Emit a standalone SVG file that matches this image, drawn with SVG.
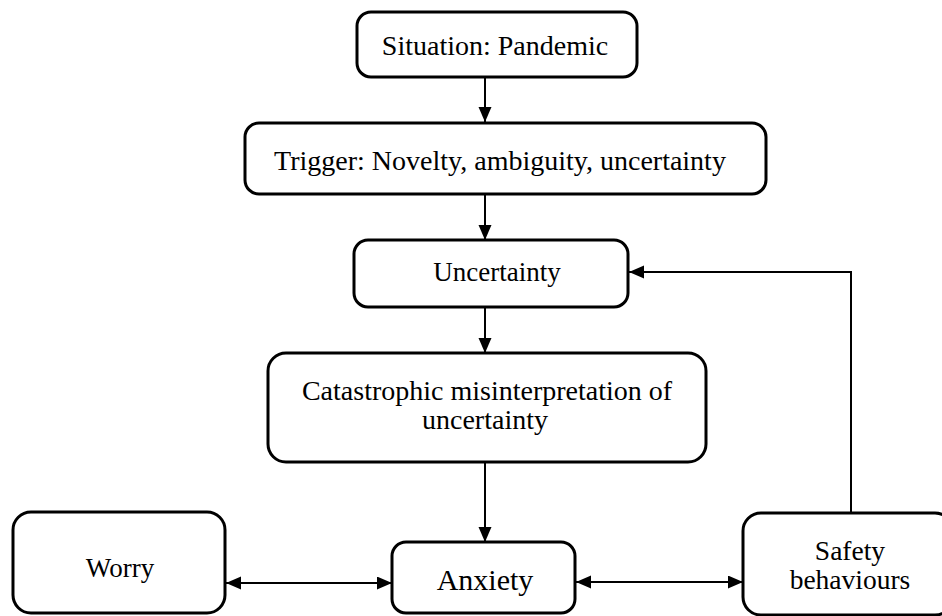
<svg xmlns="http://www.w3.org/2000/svg" width="942" height="616" viewBox="0 0 942 616">
<style>
.box{fill:#fff;stroke:#000;stroke-width:3}
.t{font-family:"Liberation Serif","Times New Roman",serif;font-size:28px;fill:#000;text-anchor:middle}
.c{fill:none;stroke:#000;stroke-width:2}
</style>
<defs>
<marker id="ah" markerUnits="userSpaceOnUse" markerWidth="16" markerHeight="14" refX="15" refY="6.5" orient="auto-start-reverse">
<path d="M0,0 L15,6.5 L0,13 Z" fill="#000"/>
</marker>
</defs>
<rect width="942" height="616" fill="#fff"/>
<g id="connectors">
<line class="c" x1="485" y1="77" x2="485" y2="122" marker-end="url(#ah)"/>
<line class="c" x1="485" y1="194" x2="485" y2="240" marker-end="url(#ah)"/>
<line class="c" x1="485" y1="307" x2="485" y2="353" marker-end="url(#ah)"/>
<line class="c" x1="485" y1="462" x2="485" y2="542" marker-end="url(#ah)"/>
<polyline class="c" points="851,513 851,272 629,272" marker-end="url(#ah)"/>
<line class="c" x1="226" y1="583" x2="392" y2="583" marker-start="url(#ah)" marker-end="url(#ah)"/>
<line class="c" x1="576" y1="582" x2="743" y2="582" marker-start="url(#ah)" marker-end="url(#ah)"/>
</g>
<g id="situation">
<rect class="box" x="357" y="12" width="280" height="65" rx="14"/>
<text class="t" x="495" y="55">Situation: Pandemic</text>
</g>
<g id="trigger">
<rect class="box" x="245" y="123" width="521" height="71" rx="14"/>
<text class="t" x="500" y="170">Trigger: Novelty, ambiguity, uncertainty</text>
</g>
<g id="uncertainty">
<rect class="box" x="354" y="240" width="274" height="67" rx="14"/>
<text class="t" x="497" y="281" style="font-size:27px">Uncertainty</text>
</g>
<g id="catastrophic">
<rect class="box" x="268" y="353" width="438" height="109" rx="18"/>
<text class="t" x="487" y="400">Catastrophic misinterpretation of</text>
<text class="t" x="485" y="429">uncertainty</text>
</g>
<g id="worry">
<rect class="box" x="13" y="512" width="212" height="101" rx="18"/>
<text class="t" x="120" y="577" style="font-size:27px">Worry</text>
</g>
<g id="anxiety">
<rect class="box" x="392" y="542" width="183" height="71" rx="14"/>
<text class="t" x="485" y="590" style="font-size:30px">Anxiety</text>
</g>
<g id="safety">
<rect class="box" x="743" y="513" width="210" height="102" rx="18"/>
<text class="t" x="850" y="560" style="font-size:27.5px">Safety</text>
<text class="t" x="850" y="589" style="font-size:27.5px">behaviours</text>
</g>
</svg>
